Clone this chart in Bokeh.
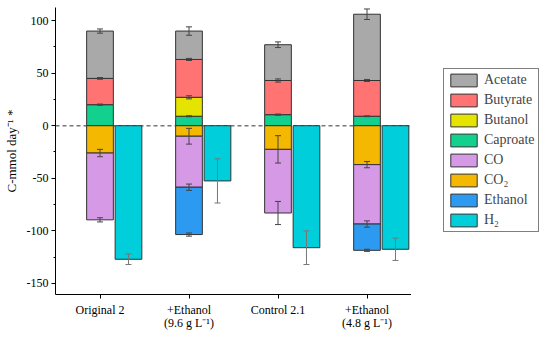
import numpy as np
from bokeh.plotting import figure
from bokeh.layouts import row
from bokeh.models import (ColumnDataSource, Range1d, FixedTicker, Span, Legend,
                          LegendItem, Whisker, TeeHead)
from bokeh.embed import file_html
from bokeh.resources import INLINE

groups = ["Original 2", "+Ethanol\n(9.6 g L\u207b\u00b9)", "Control 2.1", "+Ethanol\n(4.8 g L\u207b\u00b9)"]
y_ticks = [-150, -100, -50, 0, 50, 100]
y_tick_labels = ["-150", "-100", "-50", "0", "50", "100"]

# positive (products), stacked bottom to top
caproate = [20, 9, 10.5, 9]
butanol = [0, 18, 0, 0]
butyrate = [25, 36, 32.5, 34]
acetate = [45, 27, 34, 63]
caproate_err = [0.6, 0.5, 0.6, 0.4]
butanol_err = [0, 1.5, 0, 0]
butyrate_err = [0.8, 1.0, 1.5, 1.0]
acetate_err = [2, 4, 2.7, 5]

# negative (consumed), stacked top to bottom
co2 = [-26, -10, -22.5, -37]
co = [-63.5, -48.5, -60.5, -56.5]
ethanol = [0, -45, 0, -25]
co2_err = [3.5, 7.5, 13, 3]
co_err = [2, 3, 11, 3]
ethanol_err = [0, 1.5, 0, 1]

h2 = [-127, -52.5, -116, -117.5]
h2_err = [5, 21, 16, 10.6]

colors = {
    "Acetate": "#A9A9A9", "Butyrate": "#FF7373", "Butanol": "#E4E400",
    "Caproate": "#12D08E", "CO": "#D699E6", "CO\u2082": "#F5B800",
    "Ethanol": "#2B9AF0", "H\u2082": "#00CFDB",
}
order = ["Acetate", "Butyrate", "Butanol", "Caproate", "CO", "CO\u2082", "Ethanol", "H\u2082"]

FONT = "Liberation Serif"
xs = np.arange(1, len(groups) + 1, dtype=float)
bw = 0.3
h2_off = 0.32

p = figure(width=411, height=333, output_backend="svg", toolbar_location=None,
           x_range=Range1d(0.5, 4.5), y_range=Range1d(-160.5, 112.4),
           min_border_left=51, min_border_right=0, min_border_top=7,
           min_border_bottom=39)
p.outline_line_color = None
p.xgrid.grid_line_color = None
p.ygrid.grid_line_color = None

span = Span(location=0, dimension="width", line_color="#777777", line_dash="4 3",
            line_width=1.5, level="underlay")
p.add_layout(span)

err_x, err_v, err_e = [], [], []

def add_stack(names, vals, errs):
    bottom = np.zeros(len(xs))
    for name, v, e in zip(names, vals, errs):
        v = np.array(v, dtype=float)
        top = bottom + v
        mask = v != 0
        src = ColumnDataSource(dict(x=xs[mask], b=bottom[mask], t=top[mask]))
        p.vbar(x="x", bottom="b", top="t", width=bw, source=src,
               fill_color=colors[name], line_color="#333333", line_width=1)
        for i in range(len(xs)):
            if mask[i] and e[i] > 0:
                err_x.append(xs[i]); err_v.append(top[i]); err_e.append(e[i])
        bottom = top

add_stack(["Caproate", "Butanol", "Butyrate", "Acetate"],
          [caproate, butanol, butyrate, acetate],
          [caproate_err, butanol_err, butyrate_err, acetate_err])
add_stack(["CO\u2082", "CO", "Ethanol"], [co2, co, ethanol],
          [co2_err, co_err, ethanol_err])

h2src = ColumnDataSource(dict(x=xs + h2_off, t=h2))
p.vbar(x="x", bottom=0, top="t", width=bw, source=h2src,
       fill_color=colors["H\u2082"], line_color="#333333", line_width=1)

ev = np.array(err_v); ee = np.array(err_e)
esrc = ColumnDataSource(dict(x=err_x, lo=ev - ee, hi=ev + ee))
w = Whisker(source=esrc, base="x", lower="lo", upper="hi", line_color="#444444", line_width=1,
            level="overlay",
            upper_head=TeeHead(size=6, line_color="#444444"),
            lower_head=TeeHead(size=6, line_color="#444444"))
p.add_layout(w)
hv = np.array(h2, dtype=float); he = np.array(h2_err)
hsrc = ColumnDataSource(dict(x=xs + h2_off, lo=hv - he, hi=hv + he))
w2 = Whisker(source=hsrc, base="x", lower="lo", upper="hi", line_color="#777777", line_width=1,
             level="overlay",
             upper_head=TeeHead(size=6, line_color="#777777"),
             lower_head=TeeHead(size=6, line_color="#777777"))
p.add_layout(w2)

# axes
p.xaxis.ticker = FixedTicker(ticks=list(xs))
p.xaxis.major_label_overrides = {int(x): g for x, g in zip(xs, groups)}
p.xaxis.minor_tick_line_color = None
p.yaxis.ticker = FixedTicker(ticks=y_ticks, minor_ticks=[-125, -75, -25, 25, 75])
p.yaxis.major_label_overrides = dict(zip(y_ticks, y_tick_labels))
p.yaxis.axis_label = "C-mmol day\u207b\u00b9 *"
for ax in (p.xaxis[0], p.yaxis[0]):
    ax.axis_line_color = "black"
    ax.axis_line_width = 1
    ax.major_tick_line_color = "black"
    ax.major_tick_out = 4
    ax.major_tick_in = 0
    ax.minor_tick_out = 2
    ax.minor_tick_in = 0
    ax.major_label_text_font = FONT
    ax.major_label_text_font_size = "12px"
    ax.major_label_text_color = "black"
    ax.axis_label_text_font = FONT
    ax.axis_label_text_font_size = "13px"
    ax.axis_label_text_font_style = "normal"
    ax.axis_label_text_color = "black"
    ax.major_label_standoff = 3
p.xaxis.major_label_standoff = 4
p.xaxis.major_label_text_line_height = 0.95
p.yaxis.axis_label_standoff = 5

# legend panel
q = figure(width=129, height=333, output_backend="svg", toolbar_location=None,
           x_range=Range1d(0, 1), y_range=Range1d(0, 1),
           x_axis_type=None, y_axis_type=None,
           min_border_left=0, min_border_right=0, min_border_top=0, min_border_bottom=0)
q.outline_line_color = None
q.xgrid.grid_line_color = None
q.ygrid.grid_line_color = None
items = []
for n in order:
    r = q.vbar(x=[5], top=[5], bottom=[4], width=0.1, fill_color=colors[n],
               line_color="#333333", line_width=1)
    items.append(LegendItem(label=n, renderers=[r]))
legend = Legend(items=items, location=(32, 62), margin=0, padding=3, spacing=4,
                glyph_width=33, glyph_height=16, label_height=16, label_standoff=4,
                label_text_font=FONT, label_text_font_size="14px",
                border_line_color="black", border_line_width=1,
                background_fill_alpha=1.0)
q.add_layout(legend)

layout = row(p, q)
open("out.html", "w").write(file_html(layout, INLINE))
